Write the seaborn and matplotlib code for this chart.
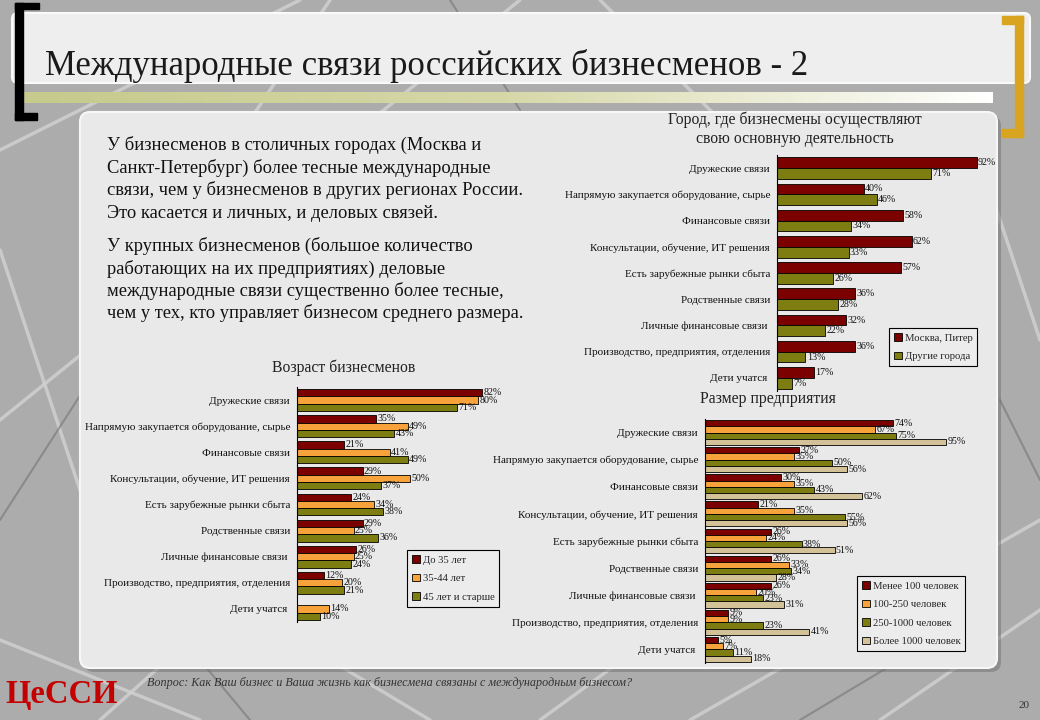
import numpy as np
import pandas as pd
import matplotlib.pyplot as plt
import seaborn as sns
from matplotlib.patches import FancyBboxPatch, Rectangle, Patch
from matplotlib.colors import LinearSegmentedColormap

categories = ['Дружеские связи', 'Напрямую закупается оборудование, сырье', 'Финансовые связи',
              'Консультации, обучение, ИТ решения', 'Есть зарубежные рынки сбыта', 'Родственные связи',
              'Личные финансовые связи ', 'Производство, предприятия, отделения', 'Дети учатся ']

city_groups = ['Москва, Питер', 'Другие города']
city_moscow = [92, 40, 58, 62, 57, 36, 32, 36, 17]
city_other = [71, 46, 34, 33, 26, 28, 22, 13, 7]

age_groups = ['До 35 лет', '35-44 лет', '45 лет и старше']
age_under35 = [82, 35, 21, 29, 24, 29, 26, 12, 0]
age_35_44 = [80, 49, 41, 50, 34, 25, 25, 20, 14]
age_45plus = [71, 43, 49, 37, 38, 36, 24, 21, 10]

size_groups = ['Менее 100 человек', '100-250 человек', '250-1000 человек', 'Более 1000 человек']
size_lt100 = [74, 37, 30, 21, 26, 26, 26, 9, 5]
size_100_250 = [67, 35, 35, 35, 24, 33, 20, 9, 7]
size_250_1000 = [75, 50, 43, 55, 38, 34, 23, 23, 11]
size_gt1000 = [95, 56, 62, 56, 51, 28, 31, 41, 18]

dark_red, orange, olive, tan = '#7b0000', '#f7a23a', '#7d7d12', '#d3c298'

W, H = 1040, 720

sns.set_style('white')
plt.rcParams['font.family'] = ['Liberation Serif', 'DejaVu Serif']

fig = plt.figure(figsize=(10.4, 7.2), dpi=100)


def px_rect(x0, y0, x1, y1):
    return [x0 / W, 1 - y1 / H, (x1 - x0) / W, (y1 - y0) / H]


# Фон слайда
bg = fig.add_axes([0, 0, 1, 1])
bg.set_xlim(0, W)
bg.set_ylim(H, 0)
bg.axis('off')
bg.add_patch(Rectangle((0, 0), W, H, color='#acacac', zorder=0))
for (xa, ya), (xb, yb) in [((0, 150), (300, 0)), ((0, 420), (520, 0)), ((0, 640), (200, 720)),
                           ((100, 720), (380, 470)), ((540, 720), (760, 560)), ((690, 720), (1040, 520)),
                           ((880, 720), (1040, 610)), ((980, 160), (1040, 340)), ((600, 0), (720, 120)),
                           ((330, 0), (250, 120)), ((0, 250), (90, 520)), ((430, 720), (330, 660))]:
    bg.plot([xa, xb], [ya, yb], color='#d2d2d2', lw=2.5, alpha=0.8, zorder=1)
for (xa, ya), (xb, yb) in [((0, 520), (90, 380)), ((250, 720), (200, 660)), ((800, 720), (900, 660)),
                           ((1000, 400), (1040, 480)), ((450, 0), (520, 110))]:
    bg.plot([xa, xb], [ya, yb], color='#7c7c7c', lw=1.5, alpha=0.7, zorder=1)

# Панель с графиками
bg.add_patch(FancyBboxPatch((84, 116), 917, 556, boxstyle='round,pad=0,rounding_size=10',
                            facecolor='#6f6f6f', edgecolor='none', alpha=0.5, zorder=2))
bg.add_patch(FancyBboxPatch((80, 112), 917, 556, boxstyle='round,pad=0,rounding_size=10',
                            facecolor='#e9e9e9', edgecolor='#f7f7f7', lw=1.5, zorder=3))

# Шапка
bg.add_patch(FancyBboxPatch((12, 13), 1018, 70, boxstyle='round,pad=0,rounding_size=6',
                            facecolor='#eeeeee', edgecolor='#fafafa', lw=1.5, zorder=3))
strip_cmap = LinearSegmentedColormap.from_list('strip', ['#c6ca8c', '#d6d8a8', '#ffffff'])
bg.imshow(np.linspace(0, 1, 256)[None, :], cmap=strip_cmap, extent=(22, 993, 103, 92),
          aspect='auto', zorder=3)
bg.set_xlim(0, W)
bg.set_ylim(H, 0)
for x, y, w, h in [(15, 3, 8, 117), (15, 3, 24, 6), (15, 113, 22, 7)]:
    bg.add_patch(Rectangle((x, y), w, h, color='black', zorder=4))
for x, y, w, h in [(1015, 16, 8, 121), (1002, 16, 21, 8), (1002, 129, 21, 8)]:
    bg.add_patch(Rectangle((x, y), w, h, color='#d9a521', zorder=4))
bg.text(45, 66, 'Международные связи российских бизнесменов - 2', fontsize=25,
        ha='left', va='center', color='#1a1a1a', zorder=5)

# Текст
para1 = ['У бизнесменов в столичных городах (Москва и', 'Санкт-Петербург) более тесные международные',
         'связи, чем у бизнесменов в других регионах России.', 'Это касается и личных, и деловых связей.']
para2 = ['У крупных бизнесменов (большое количество', 'работающих на их предприятиях) деловые',
         'международные связи существенно более тесные,', 'чем у тех, кто управляет бизнесом среднего размера.']
for i, line in enumerate(para1):
    bg.text(107, 145 + i * 22.7, line, fontsize=13.3, ha='left', va='center', color='#111111', zorder=5)
for i, line in enumerate(para2):
    bg.text(107, 246 + i * 22.5, line, fontsize=13.3, ha='left', va='center', color='#111111', zorder=5)

# Подвал
bg.text(5, 695, 'ЦеССИ', fontsize=23.5, fontweight='bold', color='#c40000', ha='left', va='center', zorder=5)
bg.text(147, 683, 'Вопрос: Как Ваш бизнес и Ваша жизнь как бизнесмена связаны с международным бизнесом?',
        fontsize=8.7, style='italic', color='#333333', ha='left', va='center', zorder=5)
bg.text(1030, 706, '20', fontsize=8, color='#333333', ha='right', va='center', zorder=5)


def draw_chart(rect, groups, series, palette, title_lines, title_x, title_y, legend_xy, width):
    df = pd.DataFrame({'Категория': categories * len(groups),
                       'Группа': np.repeat(groups, len(categories)),
                       'Доля': np.concatenate(series)})
    ax = fig.add_axes(px_rect(*rect))
    ax.set_facecolor('none')
    sns.barplot(data=df, x='Доля', y='Категория', hue='Группа', orient='h',
                palette=palette, width=width, saturation=1,
                edgecolor='black', linewidth=0.6, ax=ax, legend=False)
    for cont in ax.containers:
        for bar in cont:
            if bar.get_width() == 0:
                bar.set_visible(False)
        labels = [f'{v:.0f}%' if v > 0 else '' for v in cont.datavalues]
        ax.bar_label(cont, labels=labels, padding=1, fontsize=7.2, color='#111111')
    ax.set_xlim(0, 100)
    ax.set_ylim(len(categories) - 0.5, -0.5)
    ax.xaxis.set_visible(False)
    ax.set_ylabel('')
    for s in ['top', 'right', 'bottom']:
        ax.spines[s].set_visible(False)
    ax.spines['left'].set_color('black')
    ax.spines['left'].set_linewidth(0.8)
    ax.set_yticks(np.arange(-0.5, len(categories), 1), minor=True)
    ax.tick_params(axis='y', which='major', length=0, pad=5, labelsize=8, labelcolor='#111111')
    ax.tick_params(axis='y', which='minor', length=4, width=0.8, direction='out', color='black')
    for i, t in enumerate(title_lines):
        bg.text(title_x, title_y + i * 19, t, fontsize=11.3, ha='center', va='center',
                color='#222222', zorder=5)
    handles = [Patch(facecolor=c, edgecolor='black', lw=0.6) for c in palette]
    leg = fig.legend(handles, groups, loc='upper left', bbox_to_anchor=(legend_xy[0] / W, 1 - legend_xy[1] / H),
                     fontsize=7.7, handlelength=0.7, handleheight=0.7, handletextpad=0.3,
                     labelspacing=0.85, borderpad=0.45, fancybox=False, frameon=True,
                     edgecolor='black', facecolor='#ececec', framealpha=1)
    leg.get_frame().set_linewidth(0.8)
    return ax


draw_chart((777, 155, 994, 391), city_groups, [city_moscow, city_other], [dark_red, olive],
           ['Город, где бизнесмены осуществляют', 'свою основную деятельность'], 795, 120,
           (884, 323), 0.82)
draw_chart((297, 387, 523, 622), age_groups, [age_under35, age_35_44, age_45plus],
           [dark_red, orange, olive], ['Возраст бизнесменов'], 344, 368, (402, 545), 0.84)
draw_chart((705, 419, 959, 663), size_groups, [size_lt100, size_100_250, size_250_1000, size_gt1000],
           [dark_red, orange, olive, tan], ['Размер предприятия'], 768, 399, (852, 571), 0.92)

plt.savefig('out.png', dpi=100)
